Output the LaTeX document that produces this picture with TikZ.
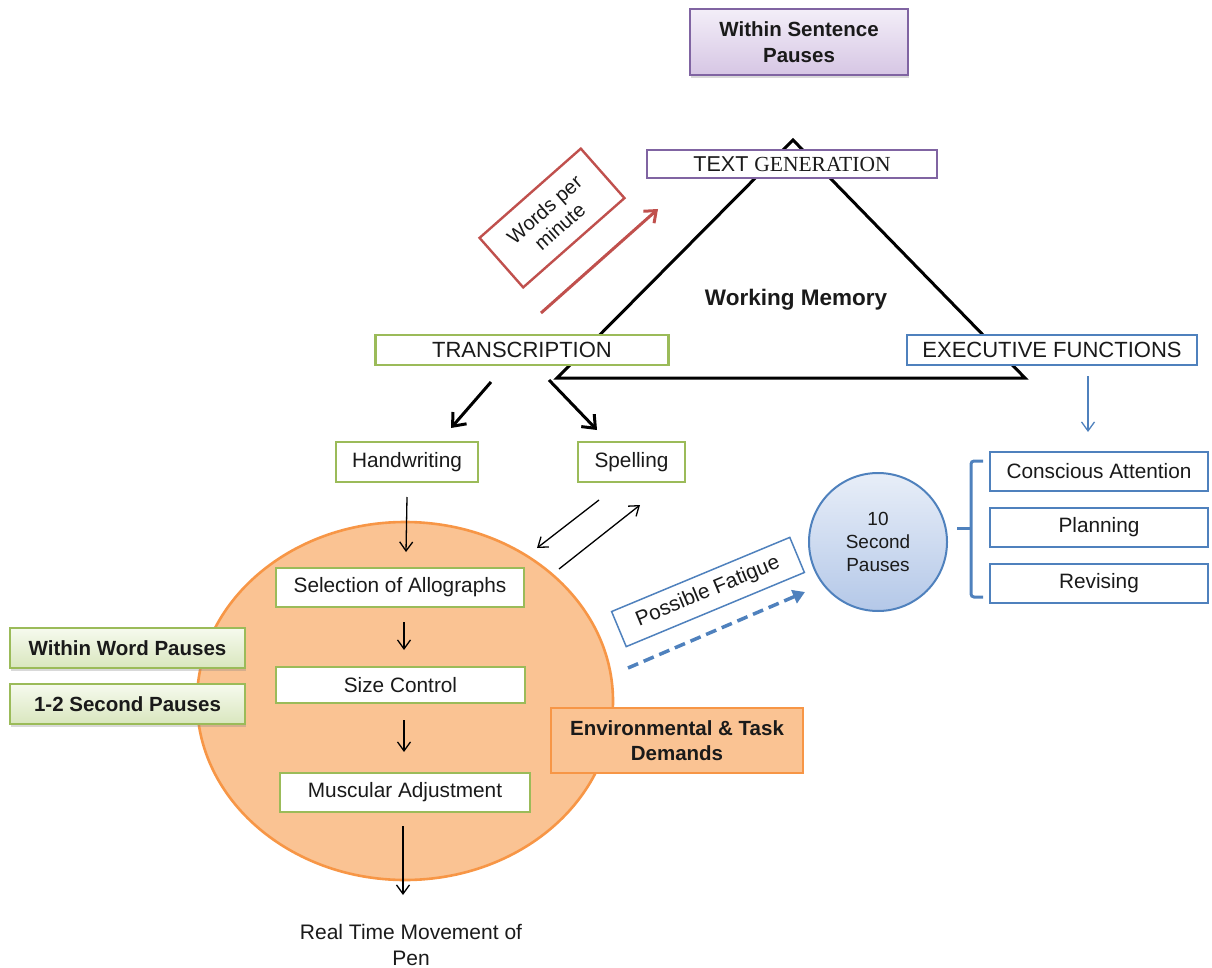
\documentclass[tikz,border=0pt]{standalone}
\usepackage{fontspec}
\setmainfont{Liberation Sans}
\newfontfamily\serifont{Liberation Serif}
\usetikzlibrary{arrows.meta,shadows,shapes.geometric}
\definecolor{purp}{HTML}{8064A2}
\definecolor{purptop}{HTML}{F3EEF8}
\definecolor{purpbot}{HTML}{D6C6E4}
\definecolor{grn}{HTML}{9BBB59}
\definecolor{grntop}{HTML}{F6FAEE}
\definecolor{grnbot}{HTML}{D9E6BE}
\definecolor{orng}{HTML}{F79646}
\definecolor{orngfill}{HTML}{FAC393}
\definecolor{blu}{HTML}{4F81BD}
\definecolor{blutop}{HTML}{E8EEF8}
\definecolor{blubot}{HTML}{B4C8E8}
\definecolor{rd}{HTML}{C0504D}
\definecolor{txt}{HTML}{1A1A1A}
\begin{document}
\begin{tikzpicture}[x=1pt,y=-1pt,
  every node/.style={inner sep=0pt, outer sep=0pt, text=txt, align=center},
  fnt/.style={font=\fontsize{20.8}{24}\selectfont},
  fntb/.style={font=\fontsize{20.5}{25.5}\selectfont\bfseries},
  gbox/.style={draw=grn, line width=2.6pt, fill=white, fnt},
  bbox/.style={draw=blu, line width=2.6pt, fill=white, fnt},
  pbox/.style={draw=purp, line width=2pt, top color=purptop, bottom color=purpbot, fntb,
    drop shadow={shadow xshift=1pt, shadow yshift=-3pt, opacity=0.3}},
  gpause/.style={draw=grn, line width=2pt, top color=grntop, bottom color=grnbot, fntb,
    drop shadow={shadow xshift=1pt, shadow yshift=-3pt, opacity=0.3}},
  thinarrow/.style={line width=1.3pt, -{Straight Barb[length=9pt,width=13pt]}},
  thickarrow/.style={line width=3pt, -{Straight Barb[length=11pt,width=18pt]}}
]
\useasboundingbox (0,0) rectangle (1212,968);

% triangle
\draw[line width=3pt, line join=miter] (793,140) -- (557,378) -- (1025,378) -- cycle;

\node[pbox, minimum width=218pt, minimum height=66pt] (wsp) at (799,42) {Within Sentence\\Pauses};
\node[draw=purp, line width=2.6pt, fill=white, minimum width=290pt, minimum height=28pt,
  font=\fontsize{21.5}{24}\selectfont] (tg) at (792,164) {TEXT {\serifont GENERATION}};

\node[font=\fontsize{22.5}{24}\selectfont\bfseries] (wm) at (796,300) {Working Memory};

\node[draw=rd, line width=2.4pt, fill=white, minimum width=135pt, minimum height=66pt, rotate=41.4,
  font=\fontsize{20}{23}\selectfont] (wpm) at (552,218) {Words per\\minute};
\coordinate (ra) at (541,313);
\coordinate (rb) at (658,209);
\draw[line width=3pt, draw=rd, -{Straight Barb[length=10pt,width=16pt]}] (ra) -- (rb);

\node[gbox, minimum width=293pt, minimum height=30pt, font=\fontsize{22}{24}\selectfont] (trans) at (522,350) {TRANSCRIPTION};
\node[bbox, minimum width=290pt, minimum height=30pt, font=\fontsize{22}{24}\selectfont] (exec) at (1052,350) {EXECUTIVE FUNCTIONS};

\node[gbox, minimum width=142pt, minimum height=40pt] (hw) at (407,462) {Handwriting};
\node[gbox, minimum width=107pt, minimum height=40pt] (sp) at (631.5,462) {Spelling};

\coordinate (t1) at (491,382); \coordinate (t1e) at (451,428);
\coordinate (t2) at (549,380); \coordinate (t2e) at (597,430);
\draw[thickarrow] (t1) -- (t1e);
\draw[thickarrow] (t2) -- (t2e);

\coordinate (e1) at (1088,376); \coordinate (e1e) at (1088,432);
\draw[thinarrow, draw=blu] (e1) -- (e1e);

% ellipse
\node[ellipse, draw=orng, line width=2.6pt, fill=orngfill, minimum width=416pt, minimum height=358pt] (ell) at (405,701) {};

\node[gbox, minimum width=248pt, minimum height=39pt] (sel) at (400,587.5) {Selection of Allographs};
\node[gbox, minimum width=249pt, minimum height=36pt] (size) at (400.5,685) {Size Control};
\node[gbox, minimum width=250pt, minimum height=39pt] (mus) at (405,792.5) {Muscular Adjustment};
\node[font=\fontsize{21}{26}\selectfont] (rt) at (411,945) {Real Time Movement of\\Pen};

\coordinate (a1) at (407,497); \coordinate (a1e) at (406,552);
\coordinate (a2) at (404,622); \coordinate (a2e) at (404,650);
\coordinate (a3) at (404,720); \coordinate (a3e) at (404,752);
\coordinate (a4) at (403,826); \coordinate (a4e) at (403,895);
\draw[thinarrow] (a1) -- (a1e);
\draw[thinarrow] (a2) -- (a2e);
\draw[thinarrow] (a3) -- (a3e);
\draw[thinarrow] (a4) -- (a4e);

\coordinate (s1) at (599,500); \coordinate (s1e) at (537,548);
\coordinate (s2) at (559,569); \coordinate (s2e) at (640,505);
\draw[thinarrow] (s1) -- (s1e);
\draw[thinarrow] (s2) -- (s2e);

\node[gpause, minimum width=235pt, minimum height=40pt] (wwp) at (127.5,648) {Within Word Pauses};
\node[gpause, minimum width=235pt, minimum height=40pt] (osp) at (127.5,704) {1-2 Second Pauses};

\node[draw=orng, line width=2.6pt, fill=orngfill, minimum width=252pt, minimum height=65pt, fntb] (env) at (677,740.5) {Environmental \& Task\\Demands};

\node[draw=blu, line width=1.5pt, fill=white, minimum width=193pt, minimum height=38pt, rotate=22.6, fnt] (pf) at (708,592) {Possible Fatigue};
\coordinate (d1) at (628,668); \coordinate (d1e) at (805,592);
\draw[draw=blu, line width=3.5pt, dash pattern=on 11pt off 6pt, -{Triangle[length=12pt,width=14pt]}] (d1) -- (d1e);

\node[circle, draw=blu, line width=2pt, top color=blutop, bottom color=blubot, minimum size=138pt,
  font=\fontsize{19}{23}\selectfont] (tsp) at (878,542) {10\\Second\\Pauses};

\draw[draw=blu, line width=3pt, rounded corners=3pt] (983,461) -- (971,461) -- (971,597) -- (983,597);
\coordinate (bm) at (971,528); \coordinate (bt) at (957,528);
\draw[draw=blu, line width=3pt] (bm) -- (bt);

\node[bbox, minimum width=218pt, minimum height=39pt] (ca) at (1099,471.5) {Conscious Attention};
\node[bbox, minimum width=218pt, minimum height=39pt] (pl) at (1099,527.5) {Planning};
\node[bbox, minimum width=218pt, minimum height=39pt] (rv) at (1099,583.5) {Revising};
\end{tikzpicture}
\end{document}
